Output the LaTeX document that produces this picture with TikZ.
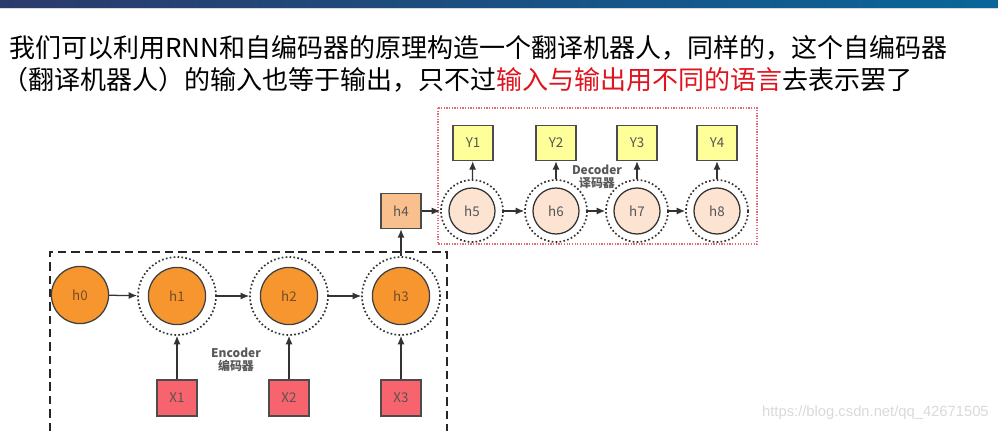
\documentclass[tikz,border=0pt]{standalone}
\usepackage{fontspec}
\setmainfont{Noto Sans CJK SC}
\newfontfamily\wmfont{Liberation Sans}
\usetikzlibrary{positioning,arrows.meta}

\definecolor{barleft}{HTML}{2B3A6B}
\definecolor{barright}{HTML}{0A6699}
\definecolor{encorange}{HTML}{F7962F}
\definecolor{decpeach}{HTML}{FCE3D2}
\definecolor{hidbox}{HTML}{F9C08E}
\definecolor{inred}{HTML}{F7646D}
\definecolor{outyellow}{HTML}{FFFF99}
\definecolor{txtred}{HTML}{E0141E}
\definecolor{decline}{HTML}{E46A78}
\definecolor{nodetxt}{HTML}{555555}

\tikzset{
  encstate/.style={circle,fill=encorange,draw=black!75,line width=0.9pt,minimum size=1.43cm,inner sep=0pt,text=brown!60!black,font=\fontsize{9.5}{11}\selectfont},
  decstate/.style={circle,fill=decpeach,draw=black!80,line width=0.9pt,minimum size=1.15cm,inner sep=0pt,text=nodetxt,font=\fontsize{9.5}{11}\selectfont},
  halo/.style={circle,draw=black!80,dash pattern=on 1.2pt off 1.6pt,line width=1.2pt,inner sep=0pt},
  inbox/.style={rectangle,fill=inred,draw=black!70,line width=0.8pt,minimum width=1cm,minimum height=0.9cm,text=nodetxt,font=\fontsize{9.5}{11}\selectfont},
  outbox/.style={rectangle,fill=outyellow,draw=black!70,line width=0.8pt,minimum width=1cm,minimum height=0.88cm,text=nodetxt,font=\fontsize{9.5}{11}\selectfont},
  link/.style={-{Latex[length=6pt,width=5pt]},line width=0.9pt,draw=black!80},
  tag/.style={align=center,text=black!65,font=\bfseries\fontsize{8.5}{9.5}\selectfont}
}

\begin{document}
\begin{tikzpicture}[x=0.025cm,y=-0.025cm]
\useasboundingbox (0,0) rectangle (998,431);
\shade[left color=barleft,right color=barright] (0,0) rectangle (998,8);
\draw[black!15,line width=0.6pt] (0,8.5) -- (998,8.5);

% text above the diagram
\node[anchor=west,inner sep=0pt,font=\fontsize{18.5}{22}\selectfont] (line1) at (9,48) {我们可以利用RNN和自编码器的原理构造一个翻译机器人，同样的，这个自编码器};
\node[anchor=west,inner sep=0pt,font=\fontsize{18.5}{22}\selectfont] (line2) at (2,80) {（翻译机器人）的输入也等于输出，只不过\textcolor{txtred}{输入与输出用不同的语言}去表示罢了};

% encoder
\draw[black!85,line width=1.4pt,dash pattern=on 6pt off 3.5pt] (50,431) -- (50,252) -- (447,252) -- (447,431);
\node[encstate] (h0) at (80,295) {h0};
\node[halo,minimum size=1.95cm] (o1) at (177,296) {};
\node[encstate] (h1) at (177,296) {h1};
\node[halo,minimum size=1.95cm] (o2) at (289,296) {};
\node[encstate] (h2) at (289,296) {h2};
\node[halo,minimum size=1.95cm] (o3) at (401,296) {};
\node[encstate] (h3) at (401,296) {h3};
\node[inbox] (x1) at (177,398) {X1};
\node[inbox] (x2) at (289,398) {X2};
\node[inbox] (x3) at (401,398) {X3};
\node[tag] (enc) at (236,360) {Encoder\\编码器};

% decoder
\draw[decline,line width=0.9pt,densely dotted] (438,108) rectangle (757,244);
\node[rectangle,fill=hidbox,draw=black!70,line width=0.8pt,minimum width=1cm,minimum height=0.88cm,text=nodetxt,font=\fontsize{9.5}{11}\selectfont] (h4) at (401,211) {h4};
\node[halo,minimum size=1.55cm] (o5) at (472,211) {};
\node[decstate] (h5) at (472,211) {h5};
\node[halo,minimum size=1.55cm] (o6) at (556,211) {};
\node[decstate] (h6) at (556,211) {h6};
\node[halo,minimum size=1.55cm] (o7) at (637,211) {};
\node[decstate] (h7) at (637,211) {h7};
\node[halo,minimum size=1.55cm] (o8) at (717,211) {};
\node[decstate] (h8) at (717,211) {h8};
\node[outbox] (y1) at (473,143) {Y1};
\node[outbox] (y2) at (556,143) {Y2};
\node[outbox] (y3) at (637,143) {Y3};
\node[outbox] (y4) at (717,143) {Y4};
\node[tag] (dec) at (597,177) {Decoder\\译码器};

% connectors
\draw[link] (h0) -- (o1);
\draw[link] (o1) -- (o2);
\draw[link] (o2) -- (o3);
\draw[link] (x1) -- (o1);
\draw[link] (x2) -- (o2);
\draw[link] (x3) -- (o3);
\draw[link] (o3) -- (h4);
\draw[link] (h4) -- (o5);
\draw[link] (o5) -- (o6);
\draw[link] (o6) -- (o7);
\draw[link] (o7) -- (o8);
\draw[link] (o5) -- (y1);
\draw[link] (o6) -- (y2);
\draw[link] (o7) -- (y3);
\draw[link] (o8) -- (y4);

\node[anchor=east,inner sep=0pt,text=black!15,font=\wmfont\fontsize{10.5}{12}\selectfont] (mark) at (989,413) {https://blog.csdn.net/qq\_42671505};
\end{tikzpicture}
\end{document}
